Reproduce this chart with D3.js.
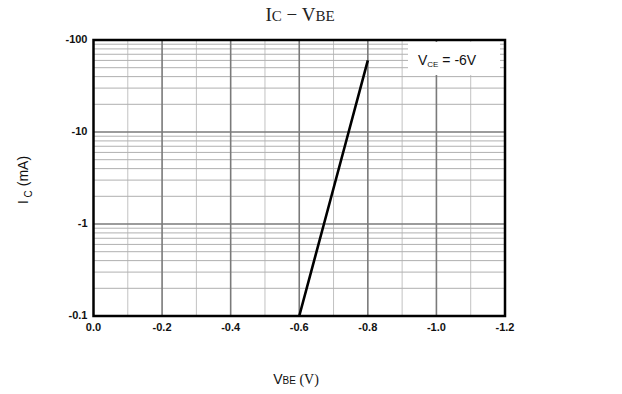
<!DOCTYPE html>
<html lang="en">
<head>
<meta charset="UTF-8">
<title>Ic - VBE</title>
<script src="https://cdnjs.cloudflare.com/ajax/libs/d3/7.8.5/d3.min.js"></script>
<style>
  body { margin: 0; background: #fff; }
  svg { display: block; }
  .tick-label { font-family: "Liberation Sans", Arial, sans-serif; font-weight: bold; font-size: 11px; fill: #111; }
</style>
</head>
<body>
<svg id="chart" width="622" height="394"></svg>
<script>
// chart values
const xTicks = [0, -0.2, -0.4, -0.6, -0.8, -1.0, -1.2];
const xTickLabels = ["0.0", "-0.2", "-0.4", "-0.6", "-0.8", "-1.0", "-1.2"];
const yDecades = [-0.1, -1, -10, -100];
const yTickLabels = ["-0.1", "-1", "-10", "-100"];
const curveVbe = [-0.6, -0.672, -0.744, -0.8];
const curveIc = [-0.1, -1, -10, -60];
const legendText = "-6V";

const svg = d3.select("#chart");
const plotLeft = 93.5, plotRight = 505, plotTop = 40, plotBottom = 316;

const x = d3.scaleLinear().domain([0, -1.2]).range([plotLeft, plotRight]);
const y = d3.scaleLog().domain([-0.1, -100]).range([plotBottom, plotTop]);

// grid: minor verticals every 0.1 V
const grid = svg.append("g");
const vMinor = d3.range(1, 12, 2).map(i => -i / 10);
grid.selectAll(".vminor").data(vMinor).enter().append("line")
  .attr("x1", d => x(d)).attr("x2", d => x(d))
  .attr("y1", plotTop).attr("y2", plotBottom)
  .attr("stroke", "#c2c2c2").attr("stroke-width", 1);

// horizontal minor lines 2..9 per decade
const hMinor = [];
yDecades.slice(0, 3).forEach(d => {
  for (let m = 2; m <= 9; m++) hMinor.push(d * m);
});
grid.selectAll(".hminor").data(hMinor).enter().append("line")
  .attr("x1", plotLeft).attr("x2", plotRight)
  .attr("y1", d => y(d)).attr("y2", d => y(d))
  .attr("stroke", "#b0b0b0").attr("stroke-width", 1);

// major verticals
grid.selectAll(".vmajor").data(xTicks.slice(1, -1)).enter().append("line")
  .attr("x1", d => x(d)).attr("x2", d => x(d))
  .attr("y1", plotTop).attr("y2", plotBottom)
  .attr("stroke", "#7a7a7a").attr("stroke-width", 1.6);

// decade lines
grid.selectAll(".hmajor").data(yDecades.slice(1, -1)).enter().append("line")
  .attr("x1", plotLeft).attr("x2", plotRight)
  .attr("y1", d => y(d)).attr("y2", d => y(d))
  .attr("stroke", "#7a7a7a").attr("stroke-width", 1.6);

// legend box
const legend = svg.append("g");
legend.append("rect")
  .attr("x", 408).attr("y", plotTop + 2).attr("width", 92).attr("height", 33)
  .attr("fill", "#fff");
const lt = legend.append("text")
  .attr("x", 418).attr("y", 65)
  .attr("font-family", "'Liberation Sans', Arial, sans-serif")
  .attr("font-size", 14).attr("fill", "#111");
lt.append("tspan").text("V");
lt.append("tspan").attr("font-size", 8).attr("dy", 2).text("CE");
lt.append("tspan").attr("dy", -2).text(" = " + legendText);

// frame
svg.append("rect")
  .attr("x", plotLeft).attr("y", plotTop)
  .attr("width", plotRight - plotLeft).attr("height", plotBottom - plotTop)
  .attr("fill", "none").attr("stroke", "#000").attr("stroke-width", 2.5);

// curve
const line = d3.line().x(d => x(d[0])).y(d => y(d[1]));
svg.append("path")
  .datum(d3.zip(curveVbe, curveIc))
  .attr("d", line)
  .attr("fill", "none").attr("stroke", "#000").attr("stroke-width", 2.6);

// tick labels
svg.selectAll(".xl").data(xTicks).enter().append("text")
  .attr("class", "tick-label")
  .attr("x", d => x(d)).attr("y", plotBottom + 15)
  .attr("text-anchor", "middle")
  .text((d, i) => xTickLabels[i]);

svg.selectAll(".yl").data(yDecades).enter().append("text")
  .attr("class", "tick-label")
  .attr("x", plotLeft - 6).attr("y", d => y(d) + 3)
  .attr("text-anchor", "end")
  .text((d, i) => yTickLabels[i]);

// title
const title = svg.append("text")
  .attr("x", 300).attr("y", 21).attr("text-anchor", "middle")
  .attr("font-family", "'Liberation Serif', 'DejaVu Serif', serif")
  .attr("font-size", 19).attr("fill", "#222");
title.append("tspan").text("I");
title.append("tspan").attr("font-size", 15).text("C");
title.append("tspan").text("  \u2212  V");
title.append("tspan").attr("font-size", 15).text("BE");

// x axis label
const xl = svg.append("text")
  .attr("x", 296).attr("y", 384).attr("text-anchor", "middle")
  .attr("font-family", "'Liberation Sans', Arial, sans-serif")
  .attr("font-size", 14).attr("fill", "#111");
xl.append("tspan").text("V");
xl.append("tspan").attr("font-size", 10).text("BE");
xl.append("tspan").attr("font-family", "'Liberation Serif', serif").text(" (V)");

// y axis label
const yl = svg.append("text")
  .attr("transform", "translate(28,180) rotate(-90)")
  .attr("text-anchor", "middle")
  .attr("font-family", "'Liberation Sans', Arial, sans-serif")
  .attr("font-size", 14).attr("fill", "#111");
yl.append("tspan").text("I");
yl.append("tspan").attr("font-size", 10).attr("dy", 4).text(" C");
yl.append("tspan").attr("dy", -4).text(" (mA)");
</script>
</body>
</html>
